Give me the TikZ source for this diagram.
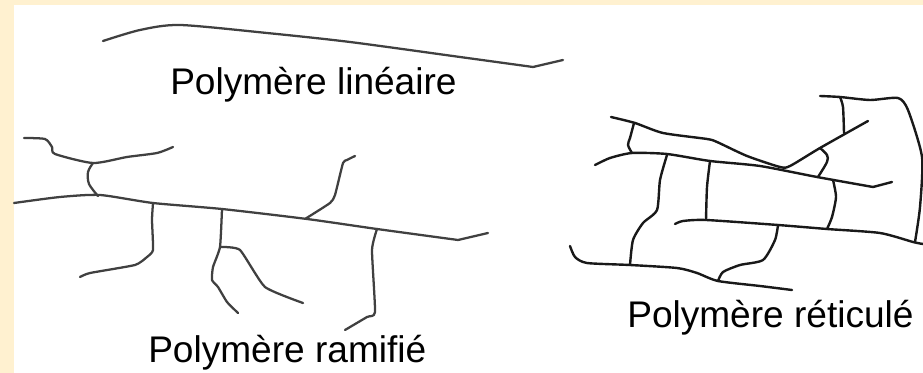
\documentclass[tikz,border=0pt]{standalone}
\usepackage{fontspec}
\setmainfont{Liberation Sans}
\usepackage{tikz}

\definecolor{cream}{RGB}{255,241,208}

\tikzset{
  chain/.style={draw=black!75, line width=1.7pt, line cap=round, line join=round},
  label/.style={inner sep=0pt, anchor=base west, font=\fontsize{27.8}{30}\selectfont},
}

\begin{document}
\begin{tikzpicture}[x=0.75pt, y=-0.75pt]
\useasboundingbox (0,0) rectangle (923,373);
\fill[cream] (0,0) rectangle (923,373);
\fill[white] (14,5) rectangle (923,373);

% linear chain
\draw[chain] plot[smooth, tension=0.45] coordinates {(103,41) (140,30) (180,25) (267,33) (350,42) (460,57) (533,67)} -- (563,60);
\node (lin) [label] at (170,95) {Polymère linéaire};

% branched chain
\draw[chain] plot[smooth, tension=0.4] coordinates {(14,203) (60,197) (100,195) (153,203) (222,209) (307,219) (377,229) (458,240)} -- (488,233);
\draw[chain] plot[smooth, tension=0.4] coordinates {(24,138) (45,139) (52,147) (55,154) (93,163) (127,157) (157,153) (173,147)};
\draw[chain] plot[smooth, tension=0.5] coordinates {(93,163) (88,172) (89,184) (98,196)};
\draw[chain] plot[smooth, tension=0.3] coordinates {(153,203) (152,220) (153,250) (147,257) (135,265) (90,273) (80,277)};
\draw[chain] plot[smooth, tension=0.3] coordinates {(222,209) (220,247) (213,267) (212,280) (218,287) (227,302) (238,313)};
\draw[chain] plot[smooth, tension=0.3] coordinates {(221,247) (240,250) (265,287) (303,303)};
\draw[chain] plot[smooth, tension=0.3] coordinates {(305,219) (330,203) (335,195) (343,163) (347,160) (355,156)};
\draw[chain] plot[smooth, tension=0.3] coordinates {(377,229) (372,250) (375,312) (367,317) (345,330)};
\node (ram) [label] at (148,363) {Polymère ramifié};

% network
\begin{scope}[chain/.append style={draw=black!90, line width=1.8pt}]
\draw[chain] plot[smooth, tension=0.4] coordinates {(611,117) (635,123) (663,133) (707,139) (717,142) (747,156) (780,167) (790,166) (820,148) (868,121)};
\draw[chain] plot[smooth, tension=0.4] coordinates {(595,165) (610,158) (632,153) (667,154) (710,161) (760,166) (817,177) (873,187)} -- (892,182);
\draw[chain] plot[smooth, tension=0.5] coordinates {(634,123) (630,138) (628,145) (632,153)};
\draw[chain] plot[smooth, tension=0.5] coordinates {(820,148) (827,155) (827,162) (818,177)};
\draw[chain] plot[smooth, tension=0.4] coordinates {(820,96) (840,97) (870,100) (898,98) (908,110) (922,157) (920,207) (915,242)};
\draw[chain] plot[smooth, tension=0.4] coordinates {(840,97) (843,107) (844,133)};
\draw[chain] plot[smooth, tension=0.4] coordinates {(667,155) (660,180) (657,210) (643,223) (633,240) (630,265)};
\draw[chain] plot[smooth, tension=0.4] coordinates {(710,161) (707,187) (706,220)};
\draw[chain] plot[smooth, tension=0.4] coordinates {(833,180) (836,197) (832,217) (827,229)};
\draw[chain] plot[smooth, tension=0.4] coordinates {(675,224) (683,221) (706,220) (778,225) (827,229) (880,233) (913,242) (923,244)};
\draw[chain] plot[smooth, tension=0.4] coordinates {(778,225) (775,240) (763,260) (740,265) (723,272) (718,281)};
\draw[chain] plot[smooth, tension=0.4] coordinates {(570,246) (575,257) (587,263) (630,265) (677,268) (697,273) (718,281) (760,286) (792,290)};
\end{scope}
\node (ret) [label] at (627,328) {Polymère réticulé};
\end{tikzpicture}
\end{document}
